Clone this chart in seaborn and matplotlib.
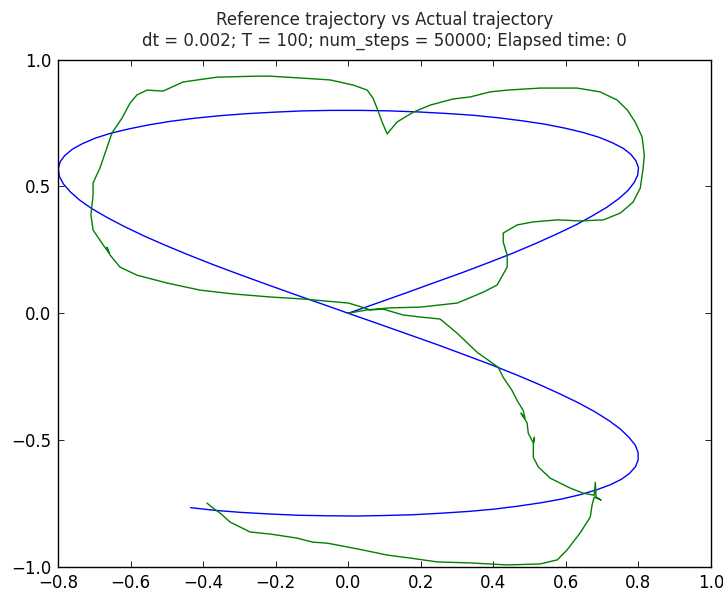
import matplotlib
matplotlib.use("Agg")
import matplotlib.pyplot as plt
import seaborn as sns
import pandas as pd

# Reference trajectory (blue)
ref_x = [0.000, 0.080, 0.159, 0.236, 0.312, 0.384, 0.452, 0.515, 0.574, 0.627,
         0.673, 0.713, 0.746, 0.771, 0.788, 0.798, 0.800, 0.793, 0.779, 0.757,
         0.727, 0.691, 0.647, 0.597, 0.540, 0.479, 0.412, 0.342, 0.268, 0.191,
         0.113, 0.033, -0.047, -0.126, -0.204, -0.281, -0.354, -0.424, -0.490, -0.550,
         -0.605, -0.655, -0.697, -0.733, -0.761, -0.782, -0.795, -0.800, -0.797, -0.786,
         -0.767, -0.741, -0.707, -0.666, -0.618, -0.564, -0.505, -0.441, -0.372, -0.299,
         -0.224, -0.146, -0.066, 0.013, 0.093, 0.172, 0.249, 0.324, 0.395, 0.463,
         0.526, 0.583, 0.635, 0.680, 0.719, 0.750, 0.774, 0.791, 0.799, 0.799,
         0.792, 0.776, 0.753, 0.722, 0.684, 0.639, 0.588, 0.530, 0.468, 0.401,
         0.330, 0.255, 0.178, 0.100, 0.020, -0.060, -0.139, -0.217, -0.293, -0.366,
         -0.435]
ref_y = [0.000, 0.040, 0.080, 0.120, 0.159, 0.198, 0.236, 0.274, 0.312, 0.348,
         0.384, 0.418, 0.452, 0.484, 0.515, 0.545, 0.574, 0.601, 0.627, 0.651,
         0.673, 0.694, 0.713, 0.730, 0.746, 0.759, 0.771, 0.781, 0.788, 0.794,
         0.798, 0.800, 0.800, 0.798, 0.793, 0.787, 0.779, 0.769, 0.757, 0.743,
         0.727, 0.710, 0.691, 0.669, 0.647, 0.622, 0.597, 0.569, 0.540, 0.510,
         0.479, 0.446, 0.412, 0.378, 0.342, 0.305, 0.268, 0.230, 0.191, 0.152,
         0.113, 0.073, 0.033, -0.007, -0.047, -0.087, -0.126, -0.166, -0.204, -0.243,
         -0.281, -0.318, -0.354, -0.389, -0.424, -0.457, -0.490, -0.520, -0.550, -0.579,
         -0.605, -0.631, -0.655, -0.677, -0.697, -0.716, -0.733, -0.748, -0.761, -0.773,
         -0.782, -0.789, -0.795, -0.798, -0.800, -0.799, -0.797, -0.792, -0.786, -0.778,
         -0.767]

# Actual trajectory (green)
act_x = [0.000, 0.052, 0.115, 0.198, 0.300, 0.372, 0.410, 0.438, 0.438, 0.427,
         0.427, 0.465, 0.509, 0.576, 0.639, 0.703, 0.750, 0.785, 0.805, 0.813,
         0.816, 0.810, 0.791, 0.769, 0.741, 0.694, 0.631, 0.529, 0.438, 0.391,
         0.336, 0.289, 0.226, 0.179, 0.134, 0.107, 0.093, 0.079, 0.068, 0.052,
         0.013, -0.050, -0.125, -0.216, -0.252, -0.362, -0.456, -0.511, -0.555, -0.583,
         -0.602, -0.624, -0.652, -0.666, -0.685, -0.704, -0.704, -0.710, -0.704, -0.676,
         -0.660, -0.666, -0.657, -0.630, -0.583, -0.500, -0.409, -0.318, -0.216, -0.125,
         0.000, 0.038, 0.060, 0.096, 0.151, 0.198, 0.253, 0.300, 0.355, 0.413,
         0.427, 0.451, 0.468, 0.482, 0.487, 0.476, 0.493, 0.496, 0.510, 0.513,
         0.510, 0.510, 0.524, 0.557, 0.612, 0.648, 0.678, 0.681, 0.683, 0.697,
         0.678, 0.672, 0.667, 0.639, 0.603, 0.576, 0.529, 0.438, 0.336, 0.245,
         0.171, 0.107, 0.040, -0.032, -0.059, -0.098, -0.142, -0.216, -0.271, -0.326,
         -0.354, -0.373, -0.390]
act_y = [0.000, 0.013, 0.021, 0.024, 0.040, 0.083, 0.111, 0.182, 0.229, 0.281,
         0.316, 0.348, 0.360, 0.368, 0.364, 0.368, 0.395, 0.438, 0.494, 0.573,
         0.624, 0.695, 0.754, 0.802, 0.841, 0.873, 0.888, 0.888, 0.880, 0.873,
         0.853, 0.845, 0.821, 0.793, 0.754, 0.707, 0.754, 0.809, 0.848, 0.880,
         0.900, 0.920, 0.927, 0.935, 0.935, 0.931, 0.912, 0.876, 0.880, 0.861,
         0.829, 0.770, 0.711, 0.652, 0.573, 0.514, 0.466, 0.388, 0.328, 0.269,
         0.237, 0.260, 0.229, 0.182, 0.150, 0.119, 0.091, 0.076, 0.064, 0.056,
         0.040, 0.024, 0.013, 0.016, -0.007, -0.015, -0.023, -0.079, -0.154, -0.213,
         -0.253, -0.304, -0.351, -0.383, -0.414, -0.394, -0.433, -0.473, -0.512, -0.489,
         -0.520, -0.568, -0.607, -0.651, -0.690, -0.710, -0.718, -0.667, -0.725, -0.737,
         -0.725, -0.757, -0.804, -0.867, -0.934, -0.973, -0.989, -0.993, -0.985, -0.981,
         -0.966, -0.954, -0.934, -0.914, -0.907, -0.903, -0.887, -0.871, -0.863, -0.824,
         -0.788, -0.769, -0.749]

x_ticks = [-0.8, -0.6, -0.4, -0.2, 0.0, 0.2, 0.4, 0.6, 0.8, 1.0]
y_ticks = [-1.0, -0.5, 0.0, 0.5, 1.0]
title_text = ("Reference trajectory vs Actual trajectory\n"
              "dt = 0.002; T = 100; num_steps = 50000; Elapsed time: 0")

sns.set_style("white")
plt.rcParams.update({
    "font.family": ["DejaVu Sans"],
    "font.size": 12,
    "xtick.direction": "in",
    "ytick.direction": "in",
    "xtick.top": True,
    "ytick.right": True,
    "xtick.bottom": True,
    "ytick.left": True,
    "xtick.major.size": 4,
    "ytick.major.size": 4,
    "xtick.major.width": 0.6,
    "ytick.major.width": 0.6,
    "xtick.major.pad": 5,
    "ytick.major.pad": 5,
    "xtick.color": "black",
    "ytick.color": "black",
    "axes.edgecolor": "black",
    "axes.linewidth": 1.0,
})

fig = plt.figure(figsize=(7.23, 5.92), dpi=100)
ax = fig.add_axes([0.0806, 0.0427, 0.9834 - 0.0806, 0.8992 - 0.0427])

ref_df = pd.DataFrame({"x": ref_x, "y": ref_y})
act_df = pd.DataFrame({"x": act_x, "y": act_y})

sns.lineplot(data=ref_df, x="x", y="y", sort=False, estimator=None,
             color=(0, 0, 1), lw=1.0, ax=ax)
sns.lineplot(data=act_df, x="x", y="y", sort=False, estimator=None,
             color=(0, 0.5, 0), lw=1.0, ax=ax)

ax.set_xlim(-0.8, 1.0)
ax.set_ylim(-1.0, 1.0)
ax.set_xticks(x_ticks)
ax.set_yticks(y_ticks)
ax.set_xticklabels([f"{v:.1f}".replace("-", "\u2212") for v in x_ticks])
ax.set_yticklabels([f"{v:.1f}".replace("-", "\u2212") for v in y_ticks])
ax.set_xlabel("")
ax.set_ylabel("")
ax.tick_params(labelsize=12)
for s in ax.spines.values():
    s.set_visible(True)
    s.set_color("black")
ax.set_title(title_text, fontsize=12, pad=10)

fig.savefig("out.png", dpi=100, facecolor="white")
